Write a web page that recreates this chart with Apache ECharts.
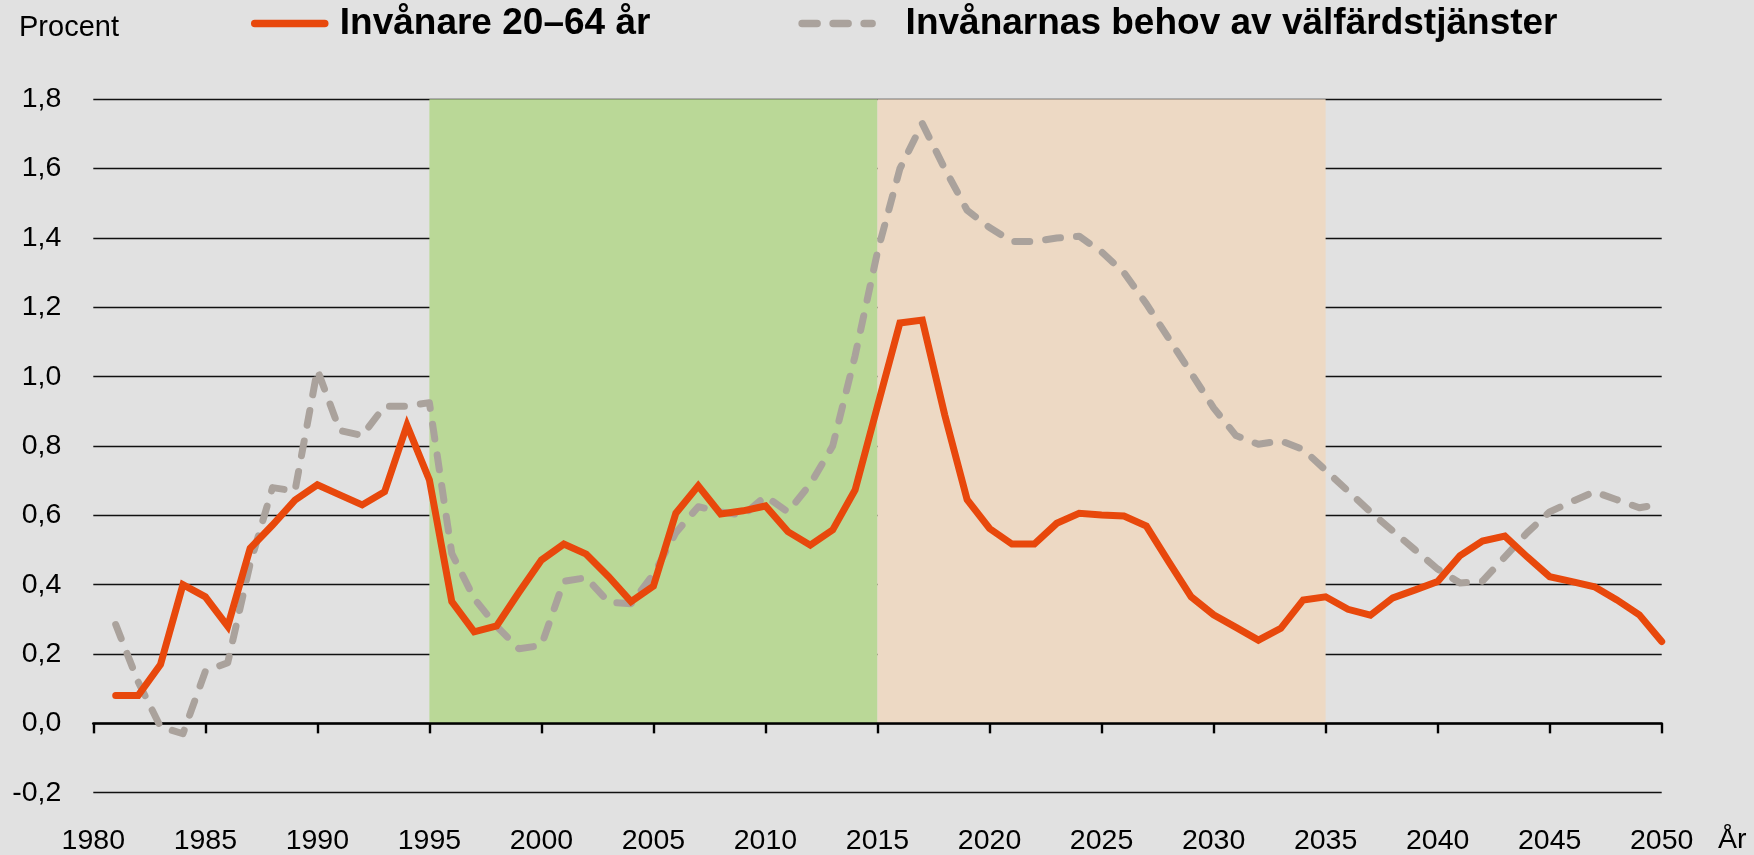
<!DOCTYPE html>
<html>
<head>
<meta charset="utf-8">
<script src="https://cdn.jsdelivr.net/npm/echarts@6/dist/echarts.min.js"></script>
<style>
  html, body { margin: 0; padding: 0; background: #e1e1e1; }
  #chart { width: 1754px; height: 855px; }
</style>
</head>
<body>
<div id="chart"></div>
<script>
// ---- data ----
const years = [
  1981,1982,1983,1984,1985,1986,1987,1988,1989,1990,
  1991,1992,1993,1994,1995,1996,1997,1998,1999,2000,
  2001,2002,2003,2004,2005,2006,2007,2008,2009,2010,
  2011,2012,2013,2014,2015,2016,2017,2018,2019,2020,
  2021,2022,2023,2024,2025,2026,2027,2028,2029,2030,
  2031,2032,2033,2034,2035,2036,2037,2038,2039,2040,
  2041,2042,2043,2044,2045,2046,2047,2048,2049,2050
];
const invanare = [
  0.08,0.08,0.17,0.40,0.365,0.28,0.505,0.572,0.644,0.688,
  0.659,0.63,0.668,0.86,0.702,0.351,0.264,0.281,0.378,0.471,
  0.517,0.488,0.423,0.351,0.396,0.606,0.685,0.604,0.613,0.627,
  0.553,0.514,0.558,0.673,0.915,1.155,1.163,0.89,0.645,0.562,
  0.517,0.517,0.577,0.606,0.601,0.598,0.569,0.466,0.365,0.313,
  0.277,0.24,0.274,0.356,0.365,0.329,0.312,0.362,0.385,0.409,
  0.484,0.526,0.540,0.48,0.423,0.409,0.394,0.356,0.313,0.236
];
const behov = [
  0.285,0.12,-0.01,-0.03,0.15,0.175,0.46,0.68,0.67,1.02,
  0.845,0.83,0.915,0.915,0.925,0.49,0.36,0.28,0.215,0.225,
  0.41,0.42,0.35,0.345,0.43,0.55,0.625,0.61,0.60,0.655,
  0.61,0.69,0.80,1.06,1.36,1.60,1.73,1.60,1.48,1.43,
  1.39,1.39,1.40,1.405,1.36,1.30,1.21,1.11,1.01,0.91,
  0.83,0.805,0.815,0.79,0.73,0.67,0.61,0.555,0.50,0.445,
  0.405,0.41,0.48,0.55,0.61,0.64,0.668,0.645,0.622,0.633
];
const seriesNames = ['Invånare 20–64 år', 'Invånarnas behov av välfärdstjänster'];
const bandRanges = [[1995, 2015], [2015, 2035]];
const bandValueRange = [0, 1.8];
const xRange = [1980, 2050, 5];
const yRange = [-0.2, 1.8, 0.2];
const yAxisTitle = 'Procent';
const xAxisTitle = 'År';

// ---- chart ----
const FONT = '"Liberation Sans", Arial, Helvetica, sans-serif';
const bandColors = ['#bad897', '#edd9c4'];
const RED = '#e8480c';
const GRAY = '#aaa29c';
const chart = echarts.init(document.getElementById('chart'), null, { renderer: 'canvas' });

const option = {
  backgroundColor: '#e1e1e1',
  animation: false,
  textStyle: { fontFamily: FONT },
  grid: { left: 93.3, right: 92.3, top: 99.3, bottom: 62.3, containLabel: false, outerBoundsMode: 'none' },
  legend: {
    data: [
      { name: seriesNames[0], textStyle: { padding: [0, 0, 0, 10] } },
      { name: seriesNames[1], textStyle: { padding: [0, 0, 0, 28.5] } }
    ],
    left: 246,
    top: 0,
    itemWidth: 70,
    itemHeight: 45,
    itemGap: 148,
    selectedMode: false,
    itemStyle: { opacity: 0 },
    lineStyle: { width: 7.5, cap: 'round' },
    textStyle: { fontFamily: FONT, fontSize: 37, fontWeight: 'bold', color: '#000' }
  },
  xAxis: {
    type: 'value',
    min: xRange[0], max: xRange[1], interval: xRange[2],
    z: 1,
    axisLine: { show: true, onZero: true, lineStyle: { color: '#000', width: 2.6 } },
    axisTick: { show: true, inside: false, length: 10, lineStyle: { color: '#000', width: 2.4 } },
    splitLine: { show: false },
    axisLabel: { fontFamily: FONT, fontSize: 28.5, color: '#000', margin: 34, formatter: v => String(v) }
  },
  yAxis: {
    type: 'value',
    min: yRange[0], max: yRange[1], interval: yRange[2],
    z: 1,
    axisLine: { show: false },
    axisTick: { show: false },
    splitLine: { show: true, lineStyle: { color: '#111', width: 1.3 } },
    axisLabel: { fontFamily: FONT, fontSize: 28.5, color: '#000', margin: 32,
      formatter: v => v.toFixed(1).replace('.', ',') }
  },
  graphic: [
    { type: 'text', left: 19, top: 13, style: { text: yAxisTitle, font: '29px ' + FONT, fill: '#000' } },
    { type: 'text', left: 1718, top: 826, style: { text: xAxisTitle, font: '28.5px ' + FONT, fill: '#000' } }
  ],
  series: [
    {
      type: 'line', name: '__bands', data: [], z: 0, silent: true,
      markArea: {
        silent: true,
        data: bandRanges.map((r, i) => [
          { xAxis: r[0], yAxis: bandValueRange[0], itemStyle: { color: bandColors[i] } },
          { xAxis: r[1], yAxis: bandValueRange[1] }
        ])
      }
    },
    {
      type: 'line', name: seriesNames[1], z: 3,
      data: years.map((y, i) => [y, behov[i]]),
      symbol: 'none', showSymbol: false,
      itemStyle: { color: GRAY },
      lineStyle: { color: GRAY, width: 7, type: [15, 16], cap: 'round', join: 'round' }
    },
    {
      type: 'line', name: seriesNames[0], z: 4,
      data: years.map((y, i) => [y, invanare[i]]),
      symbol: 'none', showSymbol: false,
      itemStyle: { color: RED },
      lineStyle: { color: RED, width: 7, cap: 'round', join: 'miter' }
    }
  ]
};
chart.setOption(option);
</script>
</body>
</html>
